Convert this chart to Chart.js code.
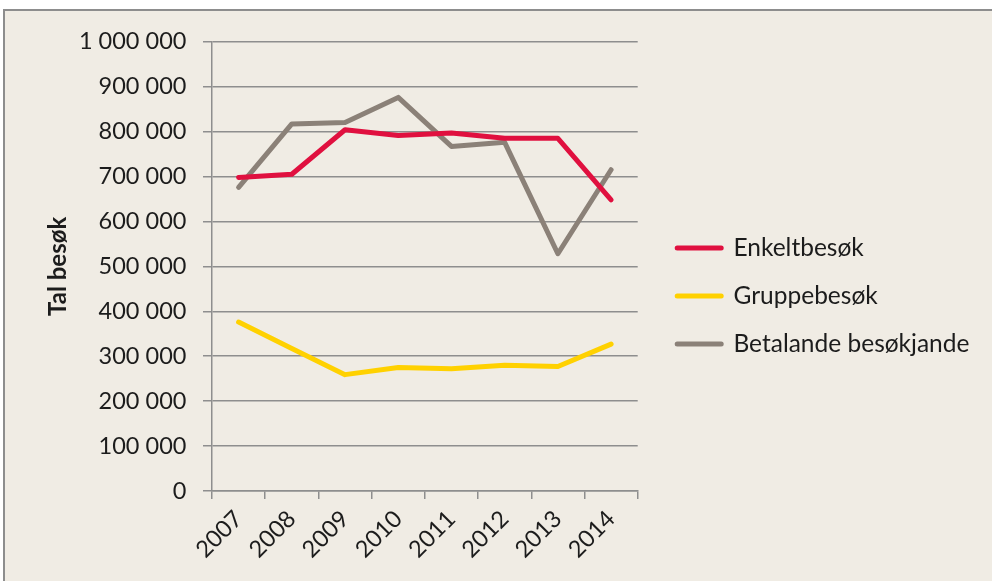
<!DOCTYPE html>
<html>
<head>
<meta charset="utf-8">
<script src="https://cdn.jsdelivr.net/npm/chart.js@4/dist/chart.umd.min.js"></script>
<style>
  html, body { margin: 0; padding: 0; background: #ffffff; overflow: hidden; }
  #frame {
    position: absolute; left: 3px; top: 9px;
    width: 1000px; height: 600px;
    border: 2px solid #8d8d8d;
    background: #F0ECE4;
  }
  #wrap { position: absolute; left: 0; top: 0; width: 987px; height: 570px; }
</style>
</head>
<body>
<div id="frame"><div id="wrap"><canvas id="chart"></canvas></div></div>
<script>
// Besøkstal per år
const years = ['2007', '2008', '2009', '2010', '2011', '2012', '2013', '2014'];
const enkeltbesok = [698000, 705000, 804000, 791000, 797000, 785000, 785000, 648000];
const gruppebesok = [376000, 317000, 259000, 275000, 272000, 280000, 277000, 327000];
const betalande = [676000, 817000, 820000, 876000, 767000, 776000, 528000, 715000];
const seriesNames = ['Enkeltbesøk', 'Gruppebesøk', 'Betalande besøkjande'];
const yTicks = { min: 0, max: 1000000, step: 100000 };

const colors = ['#E0103F', '#FFD100', '#8B8178'];
const gridColor = '#8e8e8e';
const textColor = '#1c1c1c';
const baseFont = 'Lato, "Open Sans", sans-serif';

function fmt(v) {
  return String(v).replace(/\B(?=(\d{3})+(?!\d))/g, ' ');
}

function lineSet(label, data, color) {
  return {
    label, data,
    borderColor: color, backgroundColor: color,
    borderWidth: 5, pointRadius: 0, pointHoverRadius: 0,
    borderCapStyle: 'round', borderJoinStyle: 'round',
    tension: 0, fill: false
  };
}

// moves the legend block away from the plot a little and lets it use the free space on the right
const legendShift = {
  id: 'legendShift',
  afterLayout(chart) {
    const lg = chart.legend;
    if (!lg) return;
    const dx = 16, dy = -14;
    lg.left += dx;
    lg.right = chart.width;
    lg.top += dy; lg.bottom += dy;
  }
};

new Chart(document.getElementById('chart'), {
  type: 'line',
  data: {
    labels: years,
    datasets: [
      lineSet(seriesNames[0], enkeltbesok, colors[0]),
      lineSet(seriesNames[1], gruppebesok, colors[1]),
      lineSet(seriesNames[2], betalande, colors[2])
    ]
  },
  plugins: [legendShift],
  options: {
    responsive: true,
    maintainAspectRatio: false,
    animation: false,
    events: [],
    layout: { padding: { top: 28, left: 0, right: 74.3, bottom: 0 } },
    plugins: {
      tooltip: { enabled: false },
      legend: {
        position: 'right',
        align: 'center',
        maxWidth: 280,
        labels: {
          color: textColor,
          font: { family: baseFont, size: 24.5 },
          usePointStyle: true,
          pointStyle: 'line',
          pointStyleWidth: 44,
          padding: 23.5,
          generateLabels(chart) {
            return chart.data.datasets.map((ds, i) => ({
              text: ds.label,
              fillStyle: ds.borderColor,
              strokeStyle: ds.borderColor,
              lineWidth: 5,
              lineCap: 'round',
              pointStyle: 'line',
              hidden: false,
              datasetIndex: i,
              fontColor: textColor
            }));
          }
        }
      }
    },
    scales: {
      x: {
        type: 'category',
        offset: true,
        afterFit(scale) { scale.height = 90; },
        grid: {
          offset: true,
          drawOnChartArea: false,
          drawTicks: true,
          tickLength: 8,
          color: gridColor,
          lineWidth: 1.5
        },
        border: { display: true, color: gridColor, width: 1.5 },
        ticks: {
          color: textColor,
          font: { family: baseFont, size: 23.5 },
          minRotation: 45, maxRotation: 45,
          padding: 6,
          autoSkip: false
        }
      },
      y: {
        min: yTicks.min,
        max: yTicks.max,
        afterFit(scale) { scale.width = 207; },
        grid: {
          drawOnChartArea: true,
          drawTicks: true,
          tickLength: 9,
          color: gridColor,
          lineWidth: 1.5
        },
        border: { display: true, color: gridColor, width: 1.5 },
        ticks: {
          stepSize: yTicks.step,
          color: textColor,
          font: { family: baseFont, size: 23.5 },
          padding: 16.6,
          callback: (v) => fmt(v)
        },
        title: {
          display: true,
          text: 'Tal besøk',
          color: textColor,
          font: { family: baseFont, size: 24, weight: 'bold' },
          padding: { top: 39, bottom: 0 }
        }
      }
    }
  }
});
</script>
</body>
</html>
